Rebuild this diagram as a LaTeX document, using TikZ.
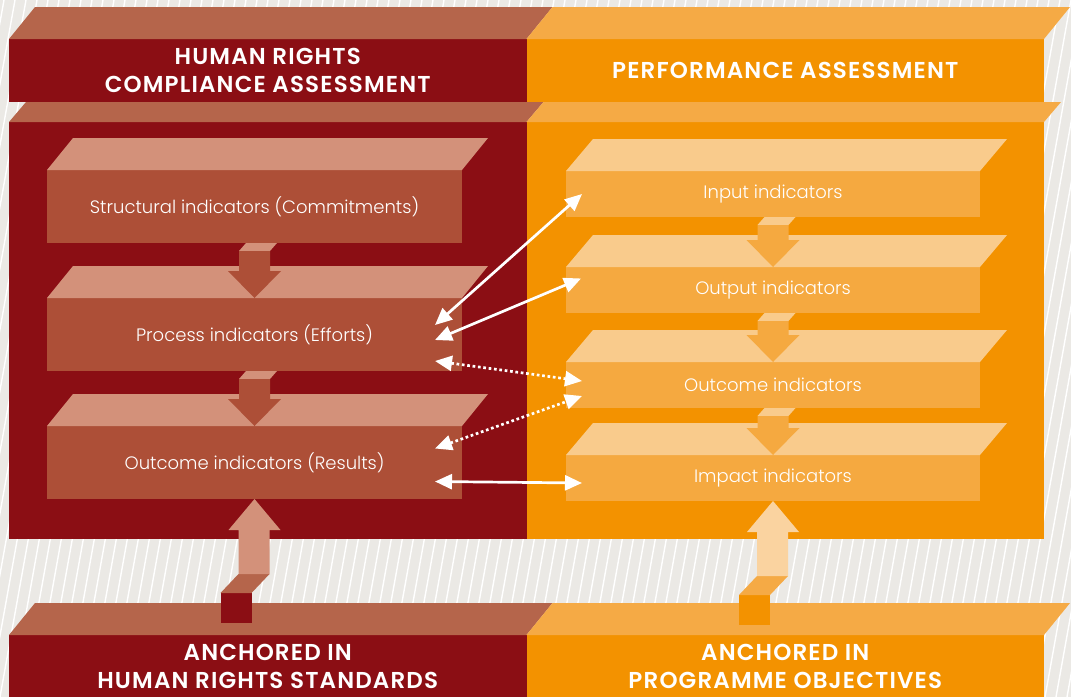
\documentclass[tikz,border=0pt]{standalone}
\usepackage{fontspec}
\setmainfont{Poppins}
\IfFontExistsTF{Poppins Light}{\newfontfamily\lightfont{Poppins Light}}{\let\lightfont\relax}
\IfFontExistsTF{Poppins SemiBold}{\newfontfamily\headfont{Poppins SemiBold}[LetterSpace=5]}{\def\headfont{\bfseries}}
\usetikzlibrary{arrows.meta,positioning}

\definecolor{hrdark}{HTML}{8B0E14}
\definecolor{hrtop}{HTML}{B5654B}
\definecolor{hrbox}{HTML}{AD4F37}
\definecolor{hrlight}{HTML}{D3917A}
\definecolor{paorange}{HTML}{F39200}
\definecolor{patop}{HTML}{F5AA45}
\definecolor{pabox}{HTML}{F5A940}
\definecolor{palight}{HTML}{F9CB8C}
\definecolor{papale}{HTML}{FAD3A0}
\definecolor{hatchbg}{HTML}{EBE9E5}

% slanted top face of a slab: node, dx, dy, colour
\newcommand\topface[4]{\fill[#4] (#1.north west) -- ++(#2,#3) -- ([shift={(#2,#3)}]#1.north east) -- (#1.north east) -- cycle;}
% block arrow from one box down to the next: upper, lower, front, top
\newcommand\dnarrow[4]{%
  \fill[#4] ([xshift=-8.5pt]#1.south) -- ([xshift=22.5pt]#1.south) -- ([xshift=15.5pt,yshift=-8pt]#1.south) -- ([xshift=-15.5pt,yshift=-8pt]#1.south) -- cycle;
  \fill[#3] ([xshift=-15.5pt,yshift=-8pt]#1.south) -- ([xshift=15.5pt,yshift=-8pt]#1.south) -- ([xshift=15.5pt,yshift=27pt]#2.north) -- ([xshift=26.5pt,yshift=27pt]#2.north) -- (#2.north) -- ([xshift=-26.5pt,yshift=27pt]#2.north) -- ([xshift=-15.5pt,yshift=27pt]#2.north) -- cycle;}
% block arrow rising from the base slab: box, cube, slant, shaft
\newcommand\uparr[4]{%
  \fill[#2] ([xshift=-34pt,yshift=-94pt]#1.south) rectangle ([xshift=-3pt,yshift=-124pt]#1.south);
  \fill[#3] ([xshift=-34pt,yshift=-94pt]#1.south) -- ([xshift=-16pt,yshift=-75pt]#1.south) -- ([xshift=15pt,yshift=-75pt]#1.south) -- ([xshift=-3pt,yshift=-94pt]#1.south) -- cycle;
  \fill[#4] ([xshift=-16pt,yshift=-75pt]#1.south) -- ([xshift=-16pt,yshift=-31pt]#1.south) -- ([xshift=-26pt,yshift=-31pt]#1.south) -- (#1.south) -- ([xshift=26pt,yshift=-31pt]#1.south) -- ([xshift=15pt,yshift=-31pt]#1.south) -- ([xshift=15pt,yshift=-75pt]#1.south) -- cycle;}

\begin{document}
\begin{tikzpicture}[x=1pt, y=-1pt,
  band/.style={inner sep=0pt, outer sep=0pt, minimum width=517.5pt, text=white, align=center,
    font=\headfont\fontsize{23}{28}\selectfont},
  hrind/.style={fill=hrbox, inner sep=0pt, outer sep=0pt, minimum width=415pt, minimum height=73pt,
    text=white, font=\lightfont\fontsize{18}{20}\selectfont},
  paind/.style={hrind, fill=pabox, minimum width=414pt, minimum height=46pt},
  link/.style={draw=white, line width=2.7pt, {Triangle[length=17pt,width=15pt]}-{Triangle[length=17pt,width=15pt]}},
  dotlink/.style={link, dash pattern=on 2.7pt off 2.7pt},
  hatch/.style={white, line width=1.4pt},
]
\useasboundingbox (0,0) rectangle (1071,697);
\begin{scope}
  \clip (0,0) rectangle (1071,697);
  \fill[hatchbg] (0,0) rectangle (1071,697);
  \foreach \i in {-14,...,98}
    \draw[hatch] (\i*11,697) -- ++(125,-697);
\end{scope}

% header slab
\node[band, fill=hrdark, minimum height=63pt, anchor=north west] (hrhead) at (9,39) {HUMAN RIGHTS\\COMPLIANCE ASSESSMENT};
\node[band, fill=paorange, minimum height=63pt, right=0pt of hrhead] (pahead) {PERFORMANCE ASSESSMENT};
\topface{hrhead}{26}{-32}{hrtop}
\topface{pahead}{26}{-32}{patop}

% main slab
\node[band, fill=hrdark, minimum height=417pt, anchor=north west] (hrbody) at (9,122) {};
\node[band, fill=paorange, minimum height=417pt, right=0pt of hrbody] (pabody) {};
\topface{hrbody}{17}{-20}{hrtop}
\topface{pabody}{17}{-20}{patop}

% base slab
\node[band, fill=hrdark, minimum height=62pt, anchor=north west] (hrbase) at (9,635) {ANCHORED IN\\HUMAN RIGHTS STANDARDS};
\node[band, fill=paorange, minimum height=62pt, right=0pt of hrbase] (pabase) {ANCHORED IN\\PROGRAMME OBJECTIVES};
\topface{hrbase}{26}{-32}{hrtop}
\topface{pabase}{26}{-32}{patop}

% human rights indicators
\node[hrind, anchor=north west] (L1) at (47,170) {Structural indicators (Commitments)};
\node[hrind, below=55pt of L1] (L2) {Process indicators (Efforts)};
\node[hrind, below=55pt of L2] (L3) {Outcome indicators (Results)};
\foreach \b in {L1,L2,L3} {\topface{\b}{26}{-32}{hrlight}}
\dnarrow{L1}{L2}{hrbox}{hrlight}
\dnarrow{L2}{L3}{hrbox}{hrlight}

% performance indicators
\node[paind, anchor=north west] (R1) at (566,171) {Input indicators};
\node[paind, below=50pt of R1] (R2) {Output indicators};
\node[paind, below=49pt of R2] (R3) {Outcome indicators};
\node[paind, below=47pt of R3] (R4) {Impact indicators};
\foreach \b in {R1,R2,R3,R4} {\topface{\b}{27}{-32}{palight}}
\dnarrow{R1}{R2}{pabox}{palight}
\dnarrow{R2}{R3}{pabox}{palight}
\dnarrow{R3}{R4}{pabox}{palight}

\uparr{L3}{hrdark}{hrtop}{hrlight}
\uparr{R4}{paorange}{patop}{papale}

% links between the two assessments
\draw[link] ([xshift=-27pt,yshift=9.5pt]L2.east) -- ([xshift=16pt]R1.west);
\draw[link] ([xshift=-27pt,yshift=-5.5pt]L2.east) -- ([xshift=15pt,yshift=11.5pt]R2.west);
\draw[dotlink] ([xshift=-27pt,yshift=-26.5pt]L2.east) -- ([xshift=16pt,yshift=4pt]R3.west);
\draw[dotlink] ([xshift=-27pt,yshift=14pt]L3.east) -- ([xshift=16pt,yshift=-11pt]R3.west);
\draw[link] ([xshift=-27pt,yshift=-19pt]L3.east) -- ([xshift=16pt,yshift=-5pt]R4.west);
\end{tikzpicture}
\end{document}
